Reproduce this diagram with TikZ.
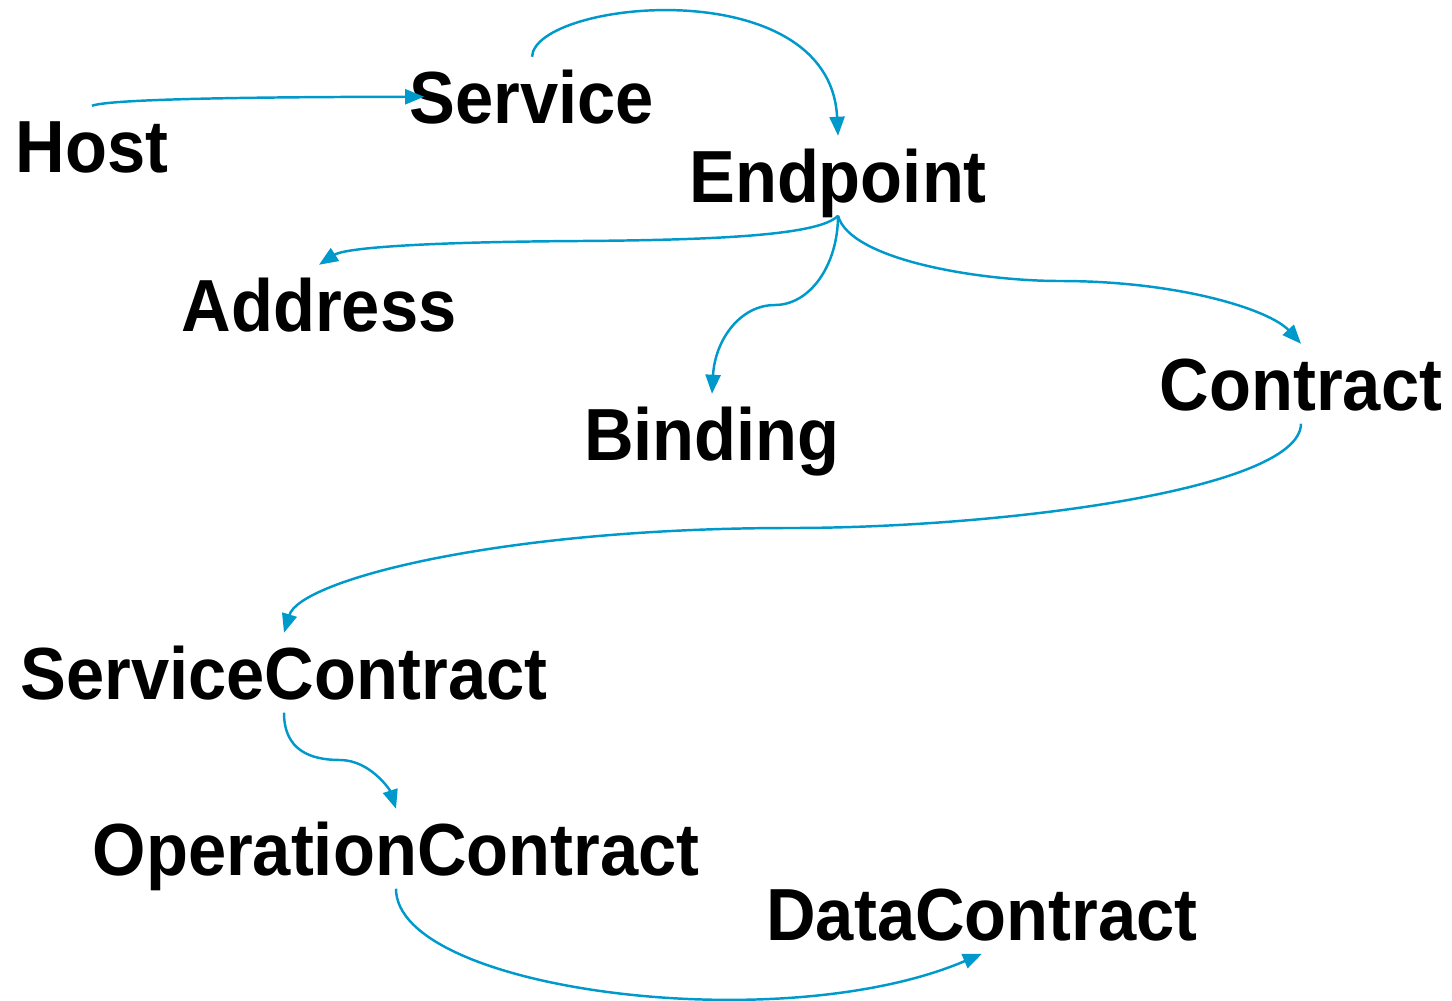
\documentclass[tikz,border=0pt]{standalone}
\usepackage{fontspec}
\newfontfamily\lblfont{Liberation Sans}[FakeStretch=0.93]
\usetikzlibrary{arrows.meta}
\definecolor{linkblue}{HTML}{0099CC}
\begin{document}
\begin{tikzpicture}[x=0.01cm,y=-0.01cm,
  term/.style={font=\lblfont\bfseries\fontsize{21pt}{25pt}\selectfont,
    anchor=base, inner xsep=0pt, inner ysep=0.13cm,
    text height=0.525cm, text depth=0pt},
  link/.style={draw=linkblue, line width=0.7pt,
    -{Triangle[length=0.19cm,width=0.15cm]}}]

% canvas
\path[use as bounding box, fill=white] (0,0) rectangle (1452,1000);

% terms
\node[term] (host)      at (92,172)   {Host};
\node[term] (service)   at (532,123)  {Service};
\node[term] (endpoint)  at (838,202)  {Endpoint};
\node[term] (address)   at (319,331)  {Address};
\node[term] (binding)   at (712,460)  {Binding};
\node[term] (contract)  at (1301,410) {Contract};
\node[term] (scontract) at (284,699)  {ServiceContract};
\node[term] (ocontract) at (396,875)  {OperationContract};
\node[term] (dcontract) at (982,940)  {DataContract};

% relations
\draw[link] (host.north) .. controls (110,99) and (250,97) .. ([xshift=0.15cm]service.west);
\draw[link] (service.north) .. controls (535,0) and (830,-30) .. (endpoint.north);
\draw[link] (endpoint.south) .. controls (820,235) and (720,240) .. (580,241)
  .. controls (420,242) and (345,248) .. (address.north);
\draw[link] (endpoint.south) .. controls (838,265) and (810,305) .. (775,305)
  .. controls (740,305) and (715,340) .. (binding.north);
\draw[link] (endpoint.south) .. controls (850,260) and (980,281) .. (1060,281)
  .. controls (1180,281) and (1270,310) .. (contract.north);
\draw[link] (contract.south) .. controls (1300,490) and (1000,528) .. (790,528)
  .. controls (500,528) and (300,580) .. (scontract.north);
\draw[link] (scontract.south) .. controls (284,750) and (310,760) .. (340,760)
  .. controls (370,760) and (390,790) .. (ocontract.north);
\draw[link] (ocontract.south) .. controls (396,990) and (780,1040) .. (dcontract.south);
\end{tikzpicture}
\end{document}
